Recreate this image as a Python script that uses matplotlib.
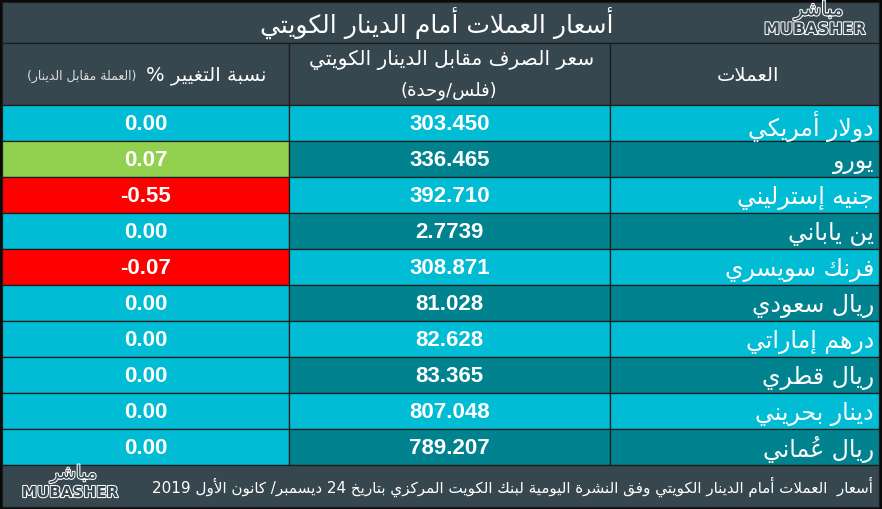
import re
import matplotlib
matplotlib.use('Agg')
import matplotlib.pyplot as plt
from matplotlib.patches import Rectangle
import matplotlib.patheffects as pe

# ---- data ----
currencies = ['دولار أمريكي', 'يورو', 'جنيه إسترليني', 'ين ياباني', 'فرنك سويسري',
              'ريال سعودي', 'درهم إماراتي', 'ريال قطري', 'دينار بحريني', 'ريال عُماني']
rates = ['303.450', '336.465', '392.710', '2.7739', '308.871',
         '81.028', '82.628', '83.365', '807.048', '789.207']
changes = [0.00, 0.07, -0.55, 0.00, -0.07, 0.00, 0.00, 0.00, 0.00, 0.00]

title = 'أسعار العملات أمام الدينار الكويتي'
hdr_name = 'العملات'
hdr_rate1 = 'سعر الصرف مقابل الدينار الكويتي'
hdr_rate2 = '(فلس/وحدة)'
hdr_chg_main = 'نسبة التغيير %'
hdr_chg_small = '(العملة مقابل الدينار)'
footer = 'أسعار  العملات أمام الدينار الكويتي وفق النشرة اليومية لبنك الكويت المركزي بتاريخ 24 ديسمبر/ كانون الأول 2019'
logo_ar = 'مباشر'
logo_en = 'MUBASHER'

# ---- colours ----
SLATE = '#37474f'
CYAN = '#00bcd4'
TEAL = '#00838f'
GREEN = '#92d050'
RED = '#ff0000'
LINE = '#1c1c1c'

# ---- minimal arabic shaping (matplotlib has no shaping/bidi) ----
FORMS = {
    'ء': (0xFE80, 1), 'آ': (0xFE81, 2), 'أ': (0xFE83, 2), 'ؤ': (0xFE85, 2),
    'إ': (0xFE87, 2), 'ئ': (0xFE89, 4), 'ا': (0xFE8D, 2), 'ب': (0xFE8F, 4),
    'ة': (0xFE93, 2), 'ت': (0xFE95, 4), 'ث': (0xFE99, 4), 'ج': (0xFE9D, 4),
    'ح': (0xFEA1, 4), 'خ': (0xFEA5, 4), 'د': (0xFEA9, 2), 'ذ': (0xFEAB, 2),
    'ر': (0xFEAD, 2), 'ز': (0xFEAF, 2), 'س': (0xFEB1, 4), 'ش': (0xFEB5, 4),
    'ص': (0xFEB9, 4), 'ض': (0xFEBD, 4), 'ط': (0xFEC1, 4), 'ظ': (0xFEC5, 4),
    'ع': (0xFEC9, 4), 'غ': (0xFECD, 4), 'ف': (0xFED1, 4), 'ق': (0xFED5, 4),
    'ك': (0xFED9, 4), 'ل': (0xFEDD, 4), 'م': (0xFEE1, 4), 'ن': (0xFEE5, 4),
    'ه': (0xFEE9, 4), 'و': (0xFEED, 2), 'ى': (0xFEEF, 2), 'ي': (0xFEF1, 4),
}
LAM_ALEF = {'آ': 0xFEF5, 'أ': 0xFEF7, 'إ': 0xFEF9, 'ا': 0xFEFB}


def is_mark(c):
    return 0x064B <= ord(c) <= 0x0652


def shape(s):
    chars = list(s)
    n = len(chars)

    def neighbour(i, step):
        j = i + step
        while 0 <= j < n and is_mark(chars[j]):
            j += step
        return j if 0 <= j < n else None

    out = []
    i = 0
    while i < n:
        c = chars[i]
        if c not in FORMS:
            out.append(c)
            i += 1
            continue
        p = neighbour(i, -1)
        prev_joins = p is not None and chars[p] in FORMS and FORMS[chars[p]][1] == 4 \
            and FORMS[c][1] >= 2
        nx = neighbour(i, 1)
        if c == 'ل' and nx is not None and chars[nx] in LAM_ALEF:
            base = LAM_ALEF[chars[nx]]
            out.append(chr(base + (1 if prev_joins else 0)))
            out.extend(ch for ch in chars[i + 1:nx])
            i = nx + 1
            continue
        next_joins = FORMS[c][1] == 4 and nx is not None and chars[nx] in FORMS \
            and FORMS[chars[nx]][1] >= 2
        base = FORMS[c][0]
        if prev_joins and next_joins:
            out.append(chr(base + 3))
        elif prev_joins:
            out.append(chr(base + 1))
        elif next_joins:
            out.append(chr(base + 2))
        else:
            out.append(chr(base))
        i += 1
    return ''.join(out)


MIRROR = {'(': ')', ')': '('}
NUMRUN = r'[0-9]+(?:\.[0-9]+)?'


def rtl(s):
    shaped = shape(s)
    tokens = re.split('(' + NUMRUN + ')', shaped)
    vis = []
    for t in reversed(tokens):
        if re.fullmatch(NUMRUN, t):
            vis.append(t)
            continue
        clusters = []
        for ch in t:
            if is_mark(ch) and clusters:
                clusters[-1] += ch
            else:
                clusters.append(ch)
        # mark placed ahead of its base so it lands over it
        vis.append(''.join(MIRROR.get(cl, cl[1:] + cl[0]) for cl in reversed(clusters)))
    return ''.join(vis)


AR = ['DejaVu Sans']
NUM = ['Liberation Sans', 'DejaVu Sans']

W, H = 882, 509
fig = plt.figure(figsize=(W / 100, H / 100), dpi=100, facecolor='#0a0a0a')
ax = fig.add_axes([0, 0, 1, 1])
ax.set_xlim(0, W)
ax.set_ylim(H, 0)
ax.axis('off')

left, right = 2, 879
col_x = [left, 289, 610, right]
title_top, hdr_top, body_top = 2, 43, 105
row_h = 36
foot_top = body_top + row_h * len(currencies)
bottom = 507


def cell(x0, x1, y0, y1, color):
    ax.add_patch(Rectangle((x0, y0), x1 - x0, y1 - y0, facecolor=color,
                           edgecolor=LINE, linewidth=0.9))


# title bar
cell(left, right, title_top, hdr_top, SLATE)
ax.text(437, 23, rtl(title), color='white', fontsize=18, family=AR,
        ha='center', va='center')

# header
for k in range(3):
    cell(col_x[k], col_x[k + 1], hdr_top, body_top, SLATE)
ax.text(748, 75, rtl(hdr_name), color='white', fontsize=14, family=AR,
        ha='center', va='center')
ax.text(452, 60, rtl(hdr_rate1), color='white', fontsize=14.5, family=AR,
        ha='center', va='center')
ax.text(449, 91, rtl(hdr_rate2), color='white', fontsize=13, family=AR,
        ha='center', va='center')
t_main = ax.text(267, 75, rtl(hdr_chg_main), color='white', fontsize=14, family=AR,
                 ha='right', va='center')
fig.canvas.draw()
bb = t_main.get_window_extent()
ax.text(bb.x0 - 10, 76, rtl(hdr_chg_small), color='#dddddd', fontsize=9,
        family=AR, ha='right', va='center')

# body rows
for i, (name, rate, chg) in enumerate(zip(currencies, rates, changes)):
    y0 = body_top + i * row_h
    y1 = y0 + row_h
    side = TEAL if i % 2 == 1 else CYAN
    if chg > 0:
        chg_col = GREEN
    elif chg < 0:
        chg_col = RED
    else:
        chg_col = CYAN
    cell(col_x[0], col_x[1], y0, y1, chg_col)
    cell(col_x[1], col_x[2], y0, y1, side)
    cell(col_x[2], col_x[3], y0, y1, side)
    yc = y0 + row_h / 2
    ax.text((col_x[0] + col_x[1]) / 2, yc + 1, f'{chg:.2f}', color='white',
            fontsize=16, fontweight='bold', family=NUM, ha='center', va='center')
    ax.text((col_x[1] + col_x[2]) / 2, yc + 1, rate, color='white',
            fontsize=16, fontweight='bold', family=NUM, ha='center', va='center')
    ax.text(874, yc + 3, rtl(name), color='white', fontsize=17, family=AR,
            ha='right', va='center')

# footer
cell(left, right, foot_top, bottom, SLATE)
ax.text(873, 487, rtl(footer), color='white', fontsize=10.9, family=AR,
        ha='right', va='center')

# logos: arabic mark above, latin name below
outline = [pe.withStroke(linewidth=1.5, foreground='white')]
for (lx, ly, sz) in [(815, 23, 1.0), (70, 486, 0.95)]:
    ax.text(lx + 4 * sz, ly - 3 * sz, rtl(logo_ar), color=SLATE, fontsize=14 * sz,
            family=AR, ha='center', va='bottom', path_effects=outline)
    ax.text(lx, ly - 1 * sz, logo_en, color=SLATE, fontsize=11.5 * sz,
            fontweight='bold', family=['DejaVu Sans'], ha='center', va='top',
            path_effects=outline)

fig.savefig('out.png', dpi=100, facecolor=fig.get_facecolor())
